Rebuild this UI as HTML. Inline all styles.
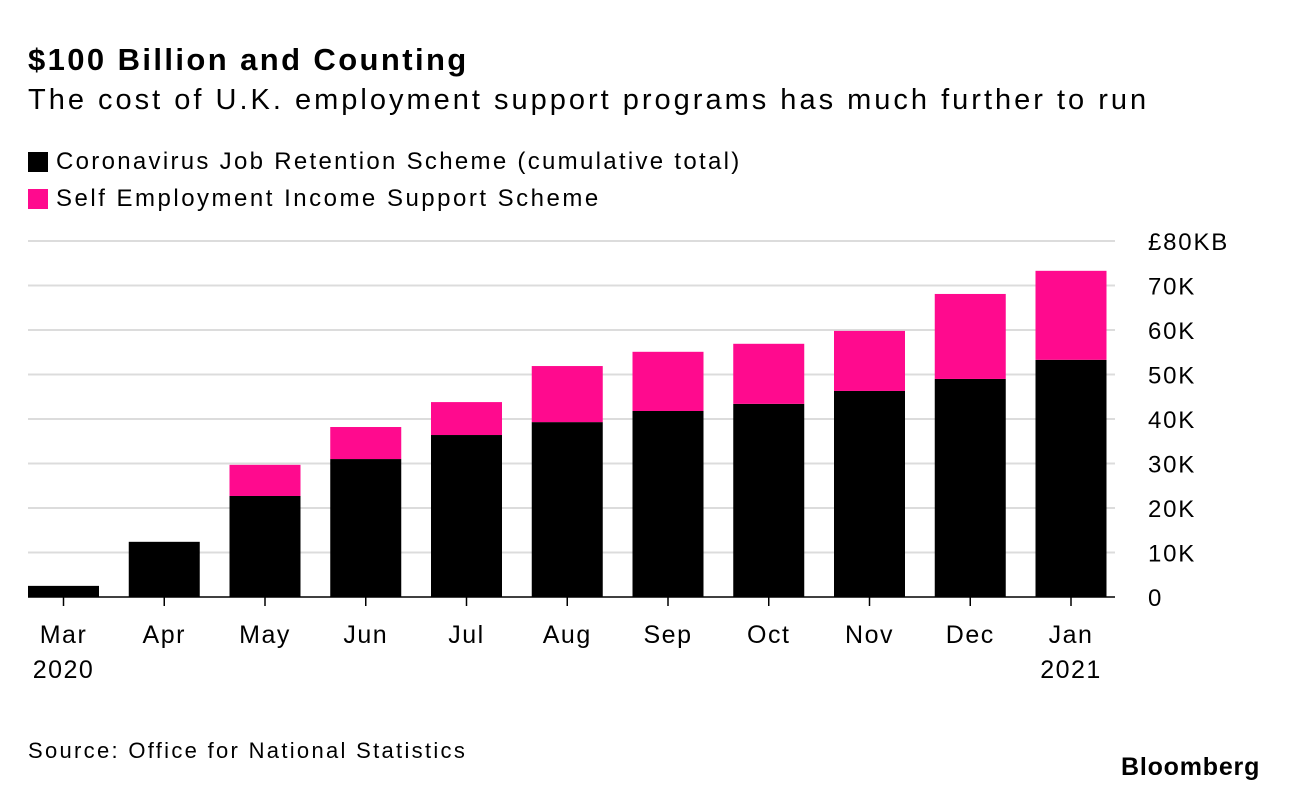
<!DOCTYPE html>
<html><head><meta charset="utf-8"><style>
body{margin:0;background:#fff;font-family:"Liberation Sans",Arial,sans-serif;}
#wrap{position:relative;width:1289px;height:792px;overflow:hidden;}
.t{position:absolute;white-space:nowrap;color:#000;}
</style></head><body>
<div id="wrap">
<div class="t" style="left:28px;top:42px;font-size:31px;font-weight:bold;letter-spacing:2.4px">$100 Billion and Counting</div>
<div class="t" style="left:28px;top:84px;font-size:29px;letter-spacing:3px">The cost of U.K. employment support programs has much further to run</div>
<div class="t" style="left:28px;top:148px;font-size:24px;letter-spacing:2.3px"><span style="display:inline-block;width:20px;height:20px;background:#000;vertical-align:-3px;margin-right:8px"></span>Coronavirus Job Retention Scheme (cumulative total)</div>
<div class="t" style="left:28px;top:185px;font-size:24px;letter-spacing:2.5px"><span style="display:inline-block;width:20px;height:20px;background:#ff0a8e;vertical-align:-3px;margin-right:8px"></span>Self Employment Income Support Scheme</div>
<svg id="svg" width="1289" height="792" style="position:absolute;left:0;top:0"></svg>
<div class="t" style="left:28px;top:738px;font-size:22px;letter-spacing:2.3px">Source: Office for National Statistics</div>
<div class="t" style="left:1121px;top:753px;font-size:25px;font-weight:bold;letter-spacing:0.8px">Bloomberg</div>
</div>
<script>
const categories=["Mar","Apr","May","Jun","Jul","Aug","Sep","Oct","Nov","Dec","Jan"];
const yearLabels=["2020","","","","","","","","","","2021"];
const cjrs=[2.5,12.4,22.7,31.0,36.4,39.3,41.8,43.4,46.3,49.0,53.3];
const seiss=[0,0,7.0,7.2,7.4,12.6,13.3,13.5,13.5,19.1,20.0];
const yTicks=[0,10,20,30,40,50,60,70,80];
const yTickLabels=["0","10K","20K","30K","40K","50K","60K","70K","£80KB"];
const svg=document.getElementById('svg');const NS="http://www.w3.org/2000/svg";
const y=v=>597-v*(356/80);
const x0=28,step=100.75,bw=71;
const xc=i=>x0+bw/2+i*step;
const FF='Liberation Sans, Arial, sans-serif';
function mk(tag,attrs){const e=document.createElementNS(NS,tag);for(const k in attrs)e.setAttribute(k,attrs[k]);svg.appendChild(e);return e;}
yTicks.forEach((v,i)=>{
 if(v>0){const g=mk('line',{x1:28,x2:1115,y1:y(v),y2:y(v),stroke:'#dcdcdc','stroke-width':2});
 
 }
 const t=mk('text',{x:1148,y:y(v)+9,'font-size':24,'letter-spacing':'1.8','font-family':FF});
 t.textContent=yTickLabels[i];
 
 
});
categories.forEach((c,i)=>{
 const b=mk('rect',{x:xc(i)-bw/2,y:y(cjrs[i]),width:bw,height:y(0)-y(cjrs[i]),fill:'#000'});
 
 
 if(seiss[i]>0){const s=mk('rect',{x:xc(i)-bw/2,y:y(cjrs[i]+seiss[i]),width:bw,height:y(cjrs[i])-y(cjrs[i]+seiss[i]),fill:'#ff0a8e'});
 
 }
 const tk=mk('line',{x1:xc(i),x2:xc(i),y1:597,y2:606,stroke:'#000','stroke-width':1.5});
 
 
 const t=mk('text',{x:xc(i),y:643,'font-size':25,'letter-spacing':'1.5','text-anchor':'middle','font-family':FF});
 t.textContent=c;
 
 
 if(yearLabels[i]){const yl=mk('text',{x:xc(i),y:678,'font-size':25,'letter-spacing':'1.5','text-anchor':'middle','font-family':FF});
 yl.textContent=yearLabels[i];
 
 }
});
const ax=mk('line',{x1:28,x2:1115,y1:597,y2:597,stroke:'#000','stroke-width':1.5});


</script>
</body></html>
